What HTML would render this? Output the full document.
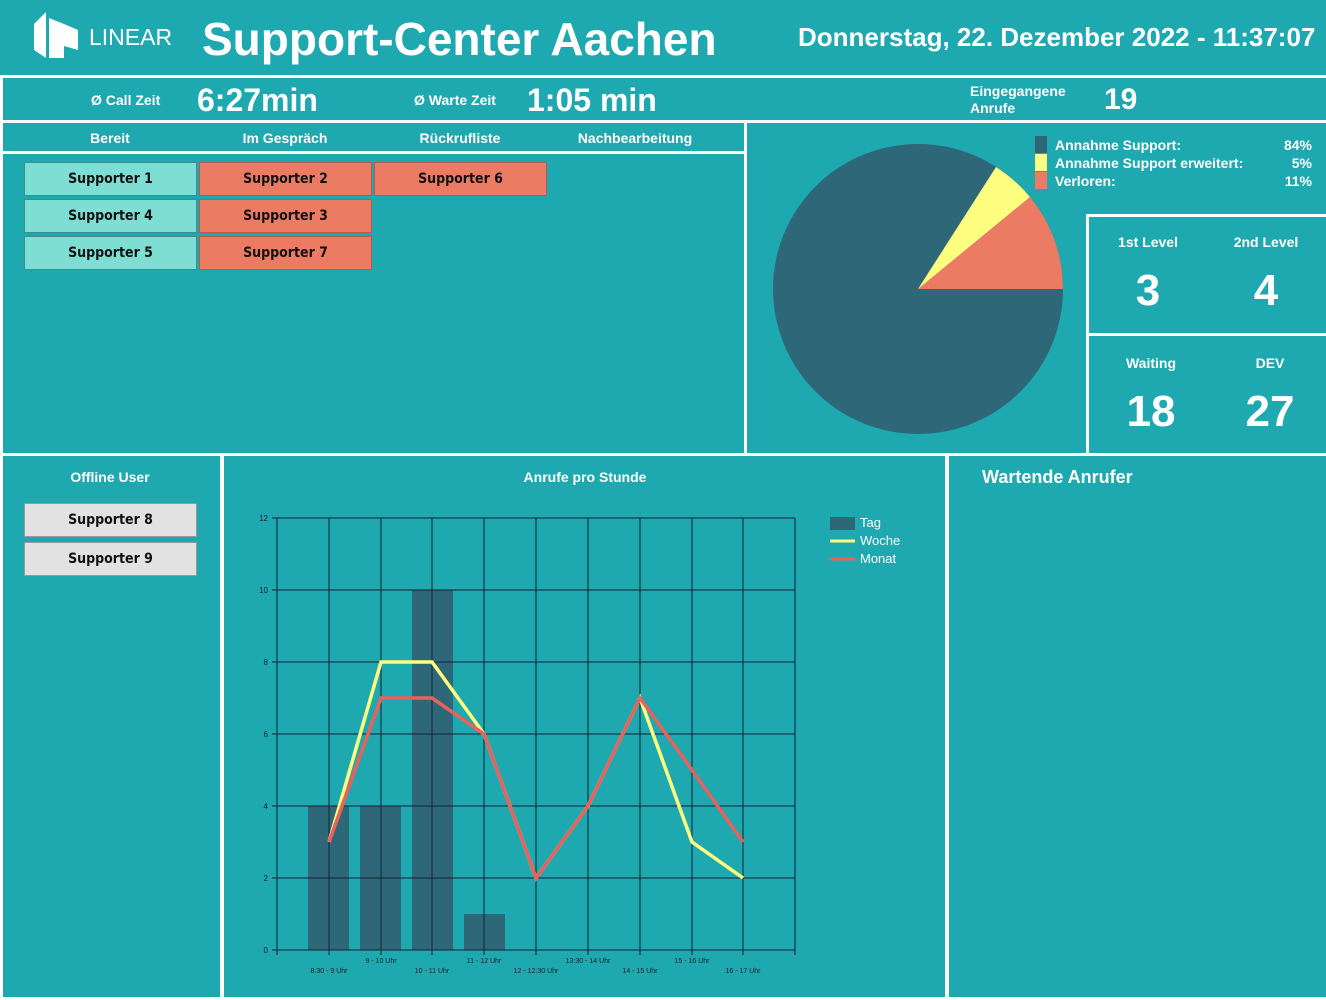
<!DOCTYPE html>
<html><head><meta charset="utf-8"><style>
*{margin:0;padding:0;box-sizing:border-box}
body{width:1326px;height:1000px;background:#fff;position:relative;overflow:hidden;font-family:"Liberation Sans",sans-serif;color:#fff}
.p{position:absolute;background:#1ea8b0}
.t{position:absolute;white-space:nowrap;font-weight:bold}
.b{position:absolute;width:173px;height:34px;border:1px solid #3a8f8f;color:#111;font-family:"DejaVu Sans Condensed","Liberation Sans Narrow",sans-serif;font-weight:bold;font-size:14px;text-align:center;line-height:32px}
.g{background:#7fded3}.o{background:#ec7b63;border-color:#b65a4a}.w{background:#e2e2e2;border-color:#999}
.c{text-align:center}
</style></head><body>
<div class="p" style="left:0;top:0;width:1326px;height:75px"></div>
<div class="p" style="left:3px;top:78px;width:1323px;height:42px"></div>
<div class="p" style="left:3px;top:123px;width:741px;height:28px"></div>
<div class="p" style="left:3px;top:154px;width:741px;height:299px"></div>
<div class="p" style="left:747px;top:123px;width:579px;height:330px"></div>
<div style="position:absolute;left:1086px;top:214px;width:3px;height:239px;background:#fff"></div>
<div style="position:absolute;left:1086px;top:214px;width:240px;height:3px;background:#fff"></div>
<div style="position:absolute;left:1086px;top:333px;width:240px;height:3px;background:#fff"></div>
<div class="p" style="left:3px;top:456px;width:217px;height:541px"></div>
<div class="p" style="left:224px;top:456px;width:721px;height:541px"></div>
<div class="p" style="left:949px;top:456px;width:377px;height:541px"></div>

<svg style="position:absolute;left:34px;top:12px" width="46" height="50"><polygon points="0,12 12,0 12,46 0,38" fill="#fff"/><polygon points="15,6 30,12 44,18 44,38 30,34 30,46 15,46" fill="#fff"/></svg>
<div class="t" style="left:89px;top:24px;font-size:23px;font-weight:normal">LINEAR</div>
<div class="t" style="left:202px;top:12px;font-size:46px">Support-Center Aachen</div>
<div class="t" style="left:798px;top:22px;font-size:26px">Donnerstag, 22. Dezember 2022 - 11:37:07</div>

<div class="t" style="left:91px;top:92px;font-size:14px">Ø Call Zeit</div>
<div class="t" style="left:197px;top:82px;font-size:32px">6:27min</div>
<div class="t" style="left:414px;top:92px;font-size:14px">Ø Warte Zeit</div>
<div class="t" style="left:527px;top:82px;font-size:32px">1:05 min</div>
<div class="t" style="left:970px;top:83px;font-size:14px;line-height:17px">Eingegangene<br>Anrufe</div>
<div class="t" style="left:1104px;top:83px;font-size:30px">19</div>

<div class="t c" style="left:30px;width:160px;top:130px;font-size:14px">Bereit</div>
<div class="t c" style="left:205px;width:160px;top:130px;font-size:14px">Im Gespräch</div>
<div class="t c" style="left:380px;width:160px;top:130px;font-size:14px">Rückrufliste</div>
<div class="t c" style="left:555px;width:160px;top:130px;font-size:14px">Nachbearbeitung</div>

<div class="b g" style="left:24px;top:162px">Supporter 1</div>
<div class="b o" style="left:199px;top:162px">Supporter 2</div>
<div class="b o" style="left:374px;top:162px">Supporter 6</div>
<div class="b g" style="left:24px;top:199px">Supporter 4</div>
<div class="b o" style="left:199px;top:199px">Supporter 3</div>
<div class="b g" style="left:24px;top:236px">Supporter 5</div>
<div class="b o" style="left:199px;top:236px">Supporter 7</div>

<svg style="position:absolute;left:747px;top:123px" width="340" height="330">
<circle cx="171" cy="166" r="145" fill="#2e6878"/>
<path d="M171,166 L316,166 A145,145 0 0 0 283,74 Z" fill="#ec7b63"/>
<path d="M171,166 L283,74 A145,145 0 0 0 249,44 Z" fill="#fdfd7f"/>
</svg>
<div style="position:absolute;left:1035px;top:136px;width:12px;height:17px;background:#2e6878"></div>
<div style="position:absolute;left:1035px;top:154px;width:12px;height:17px;background:#fdfd7f"></div>
<div style="position:absolute;left:1035px;top:172px;width:12px;height:17px;background:#ec7b63"></div>
<div class="t" style="left:1055px;top:136px;font-size:14px;line-height:18px">Annahme Support:<br>Annahme Support erweitert:<br>Verloren:</div>
<div class="t" style="left:1262px;width:50px;text-align:right;top:136px;font-size:14px;line-height:18px">84%<br>5%<br>11%</div>

<div class="t c" style="left:1098px;width:100px;top:234px;font-size:14px">1st Level</div>
<div class="t c" style="left:1216px;width:100px;top:234px;font-size:14px">2nd Level</div>
<div class="t c" style="left:1098px;width:100px;top:266px;font-size:44px">3</div>
<div class="t c" style="left:1216px;width:100px;top:266px;font-size:44px">4</div>
<div class="t c" style="left:1101px;width:100px;top:355px;font-size:14px">Waiting</div>
<div class="t c" style="left:1220px;width:100px;top:355px;font-size:14px">DEV</div>
<div class="t c" style="left:1101px;width:100px;top:387px;font-size:44px">18</div>
<div class="t c" style="left:1220px;width:100px;top:387px;font-size:44px">27</div>

<div class="t c" style="left:30px;width:160px;top:469px;font-size:14px">Offline User</div>
<div class="b w" style="left:24px;top:503px">Supporter 8</div>
<div class="b w" style="left:24px;top:542px">Supporter 9</div>

<div class="t c" style="left:485px;width:200px;top:469px;font-size:14px">Anrufe pro Stunde</div>
<div class="t" style="left:982px;top:467px;font-size:18px">Wartende Anrufer</div>

<svg style="position:absolute;left:224px;top:456px" width="721" height="541" font-family="Liberation Sans, sans-serif">
<g transform="translate(-224,-456)">
<g fill="#2e6878">
<rect x="308" y="806" width="41" height="144"/>
<rect x="360" y="806" width="41" height="144"/>
<rect x="412" y="590" width="41" height="360"/>
<rect x="464" y="914" width="41" height="36"/>
</g>
<g stroke="#123" stroke-width="1" fill="none">
<path d="M277,518H795M277,590H795M277,662H795M277,734H795M277,806H795M277,878H795M277,950H795"/>
<path d="M277,518V955M329,518V955M381,518V955M432,518V955M484,518V955M536,518V955M588,518V955M640,518V955M692,518V955M743,518V955M795,518V955"/>
<path d="M272,518H277M272,590H277M272,662H277M272,734H277M272,806H277M272,878H277M272,950H277"/>
</g>
<g fill="#222" font-size="8" text-anchor="end">
<text x="268" y="521">12</text><text x="268" y="593">10</text><text x="268" y="665">8</text><text x="268" y="737">6</text><text x="268" y="809">4</text><text x="268" y="881">2</text><text x="268" y="953">0</text>
</g>
<g fill="#222" font-size="7" text-anchor="middle">
<text x="329" y="973">8:30 - 9 Uhr</text><text x="381" y="963">9 - 10 Uhr</text><text x="432" y="973">10 - 11 Uhr</text><text x="484" y="963">11 - 12 Uhr</text><text x="536" y="973">12 - 12:30 Uhr</text><text x="588" y="963">13:30 - 14 Uhr</text><text x="640" y="973">14 - 15 Uhr</text><text x="692" y="963">15 - 16 Uhr</text><text x="743" y="973">16 - 17 Uhr</text>
</g>
<polyline points="329,842 381,662 432,662 484,734 536,878 588,806 640,698 692,842 743,878" fill="none" stroke="#fdfd7f" stroke-width="3.5"/>
<polyline points="329,842 381,698 432,698 484,734 536,878 588,806 640,698 692,770 743,842" fill="none" stroke="#e8615a" stroke-width="3.5"/>
<rect x="830" y="517" width="25" height="13" fill="#2e6878"/>
<line x1="830" y1="541" x2="855" y2="541" stroke="#fdfd7f" stroke-width="3"/>
<line x1="830" y1="559" x2="855" y2="559" stroke="#e8615a" stroke-width="3"/>
<g fill="#fff" font-size="13"><text x="860" y="527">Tag</text><text x="860" y="545">Woche</text><text x="860" y="563">Monat</text></g>
</g>
</svg>
</body></html>
